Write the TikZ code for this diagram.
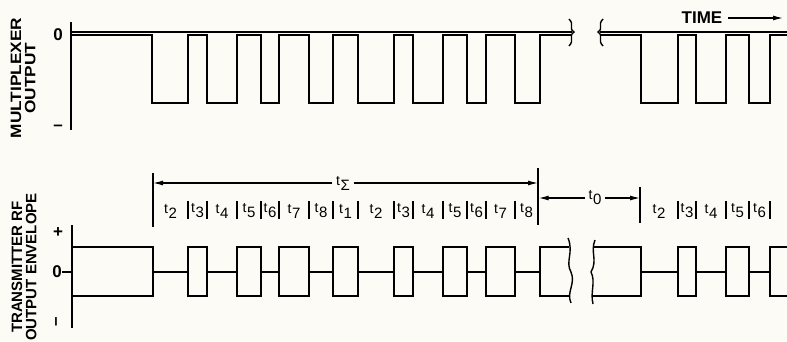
\documentclass[tikz,border=0pt]{standalone}
\usepackage{fontspec}
\setmainfont{Liberation Sans}
\usetikzlibrary{arrows.meta}
\definecolor{papel}{RGB}{252,251,245}
\newcommand\tsub[1]{\raisebox{5pt}{\fontsize{14}{14}\selectfont t}\kern0.6pt{\fontsize{15}{15}\selectfont #1}}
\newcommand\largo[2]{\scalebox{#1}[1]{\begin{tabular}{@{}c@{}}#2\end{tabular}}}
\begin{document}
\begin{tikzpicture}[x=1pt, y=-1pt, line width=1.4pt,
        rotulo/.style={font=\fontsize{15}{13}\selectfont\bfseries, rotate=90, inner sep=0pt},
        marca/.style={font=\fontsize{17}{17}\selectfont\bfseries, inner sep=0pt},
        fatia/.style={inner sep=0pt},
        seta/.style={-{Latex[length=10pt,width=5pt]}, line width=1.2pt}]
    \fill[papel] (0,0) rectangle (787,341);
    \useasboundingbox (0,0) rectangle (787,341);
    \node[rotulo] (mux) at (25,78) {\largo{1.15}{MULTIPLEXER\\OUTPUT}};
    \node[rotulo] (env) at (26,267) {\largo{1.0}{TRANSMITTER RF\\OUTPUT ENVELOPE}};
    % multiplexer output
    \coordinate (eixoA) at (71,22);
    \coordinate (eixoB) at (71,130);
    \draw (eixoA) -- (eixoB);
    \node[marca] (zeroA) at (58,35) {0};
    \node[marca] (menosA) at (58,128) {--};
    \draw (71,32) -- (572,32);
    \draw (600,32) -- (787,32);
    \draw (71,35) \foreach \a/\b in {152/188,207/237,261/279,309/333,358/394,413/443,467/486,515/540}{
        -- (\a,35) -- (\a,103) -- (\b,103) -- (\b,35)} -- (572,35);
    \draw (600,35) \foreach \a/\b in {641/678,696/726,749/770}{
        -- (\a,35) -- (\a,103) -- (\b,103) -- (\b,35)} -- (787,35);
    \draw (569,19) .. controls (575,25) and (568,28) .. (574,32) .. controls (568,36) and (575,40) .. (569,46);
    \draw (603,19) .. controls (597,25) and (604,28) .. (598,32) .. controls (604,36) and (597,40) .. (603,46);
    \node[font=\fontsize{17}{17}\selectfont\bfseries, inner sep=0pt] (tempo) at (702,18) {TIME};
    \coordinate (tempofim) at (783,18);
    \draw[seta] ([xshift=5pt]tempo.east) -- (tempofim);
    % transmitter envelope
    \coordinate (eixoC) at (72,225);
    \coordinate (eixoD) at (72,328);
    \draw (eixoC) -- (eixoD);
    \node[marca] (mais) at (58,233) {+};
    \node[marca] (zeroB) at (57,272) {0};
    \draw (zeroB.east) -- (72,272);
    \node[marca, rotate=90] (menosB) at (58,322) {--};
    \draw (72,247) -- (153,247) -- (153,296) -- (72,296);
    \draw (153,272) -- (540,272);
    \foreach \a/\b in {188/207,237/261,279/309,333/358,394/413,443/467,486/515}
        \draw[fill=papel] (\a,247) rectangle (\b,296);
    \draw (569,247) -- (540,247) -- (540,296) -- (570,296);
    \draw (568,238) .. controls (574,252) and (565,262) .. (571,272) .. controls (576,284) and (566,292) .. (571,303);
    \draw (595,240) .. controls (590,252) and (598,260) .. (591,272) .. controls (596,282) and (590,292) .. (593,304);
    \draw (594,247) -- (641,247) -- (641,296) -- (593,296);
    \draw (641,272) -- (770,272);
    \foreach \a/\b in {678/696,726/749}
        \draw[fill=papel] (\a,247) rectangle (\b,296);
    \draw (787,247) -- (770,247) -- (770,296) -- (787,296);
    % time slots
    \foreach \a/\b/\n in {153/188/2,188/207/3,207/237/4,237/261/5,261/279/6,279/309/7,309/333/8,333/358/1,
        358/394/2,394/413/3,413/443/4,443/467/5,467/486/6,486/515/7,515/538/8,
        640/678/2,678/696/3,696/726/4,726/749/5,749/770/6}
        \node[fatia] (f\a) at ({(\a+\b)/2},211) {\tsub{\n}};
    \foreach \x in {188,207,237,261,279,309,333,358,394,413,443,467,486,515,678,696,726,749,770}
        \draw (\x,201) -- (\x,219);
    \coordinate (somaA) at (153,173);
    \coordinate (somaB) at (153,227);
    \coordinate (somaC) at (538,168);
    \coordinate (somaD) at (538,225);
    \coordinate (zeroC) at (640,187);
    \coordinate (zeroD) at (640,223);
    \draw (somaA) -- (somaB);
    \draw (somaC) -- (somaD);
    \draw (zeroC) -- (zeroD);
    \node[fatia, inner sep=3pt] (tsoma) at (343,183) {\tsub{Σ}};
    \draw[seta] (tsoma.west) -- (somaA |- tsoma);
    \draw[seta] (tsoma.east) -- (somaC |- tsoma);
    \node[fatia, inner sep=3pt] (tzero) at (595,198) {\tsub{0}};
    \draw[seta] (tzero.west) -- ([xshift=0.7pt]somaC |- tzero);
    \draw[seta] (tzero.east) -- (zeroC |- tzero);
\end{tikzpicture}
\end{document}
